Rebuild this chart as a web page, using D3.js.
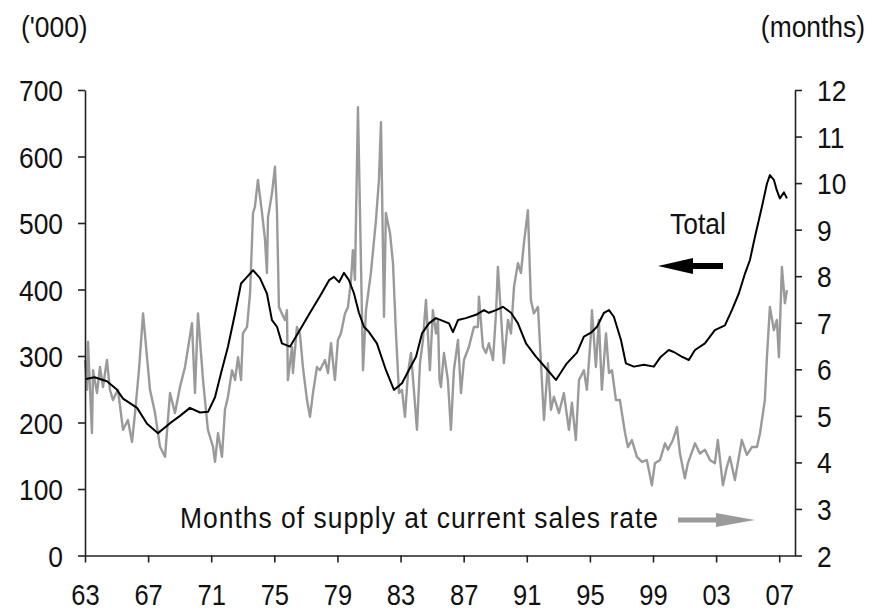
<!DOCTYPE html>
<html>
<head>
<meta charset="utf-8">
<script src="https://cdn.jsdelivr.net/npm/d3@7"></script>
<style>
  body { margin: 0; background: #fff; }
  svg { display: block; }
  text { font-family: "Liberation Sans", Arial, sans-serif; fill: #111; }
</style>
</head>
<body>
<svg id="chart"></svg>
<script>
// New homes for sale: total ('000, left axis) and months of supply (right axis)
const totalYears = [1963.0, 1963.6, 1964.39, 1965.0, 1965.41, 1966.3, 1966.93, 1967.63, 1968.39, 1969.02,
  1969.65, 1970.29, 1970.8, 1971.24, 1971.62, 1972.06, 1972.51, 1972.89, 1973.2, 1973.65,
  1974.09, 1974.53, 1974.85, 1975.17, 1975.48, 1975.99, 1976.62, 1977.26, 1977.89, 1978.47,
  1978.78, 1979.1, 1979.41, 1979.73, 1980.05, 1980.36, 1980.68, 1981.0, 1981.5, 1982.07,
  1982.58, 1983.09, 1983.53, 1983.98, 1984.36, 1984.8, 1985.24, 1986.07, 1986.32, 1986.64,
  1987.14, 1987.78, 1988.29, 1988.6, 1989.05, 1989.49, 1990.0, 1990.44, 1990.95, 1991.58,
  1992.21, 1992.85, 1993.54, 1994.18, 1994.62, 1995.07, 1995.45, 1995.89, 1996.21, 1996.52,
  1996.97, 1997.28, 1997.79, 1998.42, 1999.05, 1999.5, 2000.0, 2000.32, 2000.82, 2001.27,
  2001.66, 2002.29, 2002.92, 2003.56, 2004.0, 2004.44, 2004.83, 2005.14, 2005.46, 2005.9,
  2006.22, 2006.41, 2006.66, 2006.85, 2007.04, 2007.3, 2007.49];
const totalUnits = [265, 268, 262, 250, 236, 222, 198, 184, 199, 210,
  222, 215, 216, 238, 274, 314, 364, 409, 417, 429,
  417, 394, 354, 344, 319, 314, 339, 365, 390, 414,
  419, 411, 425, 414, 394, 365, 344, 336, 319, 279,
  249, 259, 279, 299, 334, 349, 357, 349, 336, 354,
  357, 362, 369, 365, 369, 374, 365, 349, 319, 299,
  282, 264, 289, 305, 329, 335, 344, 365, 369, 359,
  324, 289, 284, 287, 284, 299, 309, 306, 299, 294,
  309, 319, 339, 346, 369, 394, 424, 444, 479, 524,
  559, 572, 565, 549, 537, 546, 537];

const supplyYears = [1963.0, 1963.13, 1963.19, 1963.44, 1963.51, 1963.76, 1963.95, 1964.14, 1964.39, 1964.58,
  1964.77, 1965.09, 1965.41, 1965.72, 1965.98, 1966.17, 1966.42, 1966.68, 1966.93, 1967.12,
  1967.44, 1967.75, 1968.07, 1968.39, 1968.7, 1969.02, 1969.34, 1969.78, 1969.97, 1970.16,
  1970.48, 1970.79, 1971.11, 1971.24, 1971.43, 1971.68, 1971.87, 1972.06, 1972.32, 1972.51,
  1972.7, 1972.89, 1973.01, 1973.27, 1973.46, 1973.65, 1973.77, 1973.96, 1974.22, 1974.41,
  1974.53, 1974.6, 1974.85, 1975.04, 1975.17, 1975.29, 1975.48, 1975.67, 1975.8, 1975.86,
  1976.12, 1976.18, 1976.43, 1976.62, 1976.81, 1977.07, 1977.26, 1977.45, 1977.7, 1977.89,
  1978.21, 1978.4, 1978.59, 1978.84, 1979.03, 1979.22, 1979.48, 1979.67, 1979.86, 1979.98,
  1980.11, 1980.3, 1980.43, 1980.62, 1980.81, 1981.12, 1981.44, 1981.63, 1981.76, 1981.95,
  1982.07, 1982.33, 1982.52, 1982.71, 1982.9, 1983.09, 1983.28, 1983.47, 1983.66, 1983.91,
  1984.04, 1984.23, 1984.42, 1984.61, 1984.86, 1985.05, 1985.24, 1985.37, 1985.47, 1985.56,
  1985.75, 1986.0, 1986.19, 1986.38, 1986.64, 1986.83, 1987.02, 1987.33, 1987.65, 1987.9,
  1987.97, 1988.22, 1988.41, 1988.6, 1988.86, 1989.05, 1989.17, 1989.36, 1989.55, 1989.81,
  1990.0, 1990.19, 1990.44, 1990.63, 1990.82, 1991.07, 1991.26, 1991.45, 1991.71, 1991.9,
  1992.09, 1992.34, 1992.53, 1992.72, 1993.04, 1993.35, 1993.67, 1993.86, 1994.11, 1994.31,
  1994.62, 1994.81, 1995.07, 1995.13, 1995.38, 1995.57, 1995.76, 1996.02, 1996.21, 1996.4,
  1996.65, 1996.9, 1997.22, 1997.41, 1997.66, 1997.98, 1998.3, 1998.61, 1998.93, 1999.12,
  1999.44, 1999.76, 1999.95, 2000.26, 2000.52, 2000.71, 2001.02, 2001.21, 2001.66, 2001.97,
  2002.29, 2002.61, 2002.92, 2003.11, 2003.43, 2003.68, 2003.87, 2004.19, 2004.63, 2004.95,
  2005.27, 2005.59, 2005.78, 2006.09, 2006.22, 2006.41, 2006.66, 2006.85, 2006.98, 2007.17,
  2007.36, 2007.49];
const supplyMonths = [6.2, 5.56, 6.59, 4.63, 5.98, 5.49, 6.05, 5.62, 6.2, 5.56,
  5.34, 5.56, 4.7, 4.91, 4.44, 5.06, 5.98, 7.2, 6.26, 5.56,
  5.06, 4.34, 4.12, 5.49, 5.06, 5.62, 6.05, 6.99, 5.49, 7.2,
  5.77, 4.7, 4.34, 4.01, 4.63, 4.12, 5.13, 5.41, 5.98, 5.77,
  6.26, 5.77, 6.77, 6.91, 7.63, 9.36, 9.49, 10.07, 9.36, 8.78,
  8.07, 9.27, 9.78, 10.35, 9.36, 7.34, 7.2, 7.06, 7.27, 5.77,
  6.48, 5.92, 6.91, 6.77, 6.05, 5.34, 4.98, 5.49, 6.05, 5.98,
  6.2, 5.92, 6.56, 5.77, 6.63, 6.77, 7.2, 7.34, 7.92, 8.56,
  7.92, 11.63, 9.36, 5.98, 7.27, 8.07, 9.2, 10.07, 11.31, 7.13,
  9.36, 8.93, 8.28, 6.77, 5.49, 5.56, 4.98, 5.92, 6.35, 5.28,
  4.7, 6.13, 6.63, 7.49, 5.98, 7.27, 6.77, 7.06, 5.77, 5.62,
  6.35, 5.77, 4.7, 5.98, 6.63, 5.49, 6.2, 6.48, 6.91, 6.91,
  7.56, 6.48, 6.35, 6.56, 6.2, 7.2, 8.2, 7.2, 6.13, 7.06,
  6.77, 7.77, 8.28, 8.07, 8.71, 9.42, 7.49, 7.2, 7.34, 6.13,
  4.91, 6.13, 5.13, 5.41, 5.06, 5.49, 4.7, 5.28, 4.48, 5.77,
  5.98, 5.56, 6.77, 7.27, 6.05, 7.06, 5.56, 6.77, 5.92, 5.98,
  5.34, 5.34, 4.65, 4.33, 4.48, 4.12, 4.01, 4.05, 3.51, 3.98,
  4.05, 4.41, 4.27, 4.48, 4.76, 4.19, 3.66, 3.98, 4.41, 4.19,
  4.27, 4.05, 3.98, 4.48, 3.51, 3.9, 4.12, 3.62, 4.48, 4.16,
  4.33, 4.33, 4.62, 5.34, 6.26, 7.34, 6.84, 7.06, 6.26, 8.2,
  7.42, 7.7];

const yearTicks = d3.range(1963, 2008, 4);
const leftTicks = d3.range(0, 701, 100);
const rightTicks = d3.range(2, 13, 1);

const W = 879, H = 611;
const margin = { top: 90, right: 84, bottom: 55.5, left: 85 };
const textScale = 0.88;

const svg = d3.select('#chart').attr('width', W).attr('height', H);

const x = d3.scaleLinear().domain([1963, 2008]).range([margin.left, W - margin.right]);
const yL = d3.scaleLinear().domain([0, 700]).range([H - margin.bottom, margin.top]);
const yR = d3.scaleLinear().domain([2, 12]).range([H - margin.bottom, margin.top]);

function label(x0, y0, str, anchor) {
  return svg.append('text')
    .attr('transform', `translate(${x0},${y0}) scale(${textScale},1)`)
    .attr('text-anchor', anchor || 'start')
    .style('font-size', '30px')
    .text(str);
}

// lines
const supplyLine = d3.line().x((d, i) => x(supplyYears[i])).y(d => yR(d));
const totalLine = d3.line().x((d, i) => x(totalYears[i])).y(d => yL(d));

svg.append('path')
  .datum(supplyMonths)
  .attr('d', supplyLine)
  .attr('fill', 'none')
  .attr('stroke', '#9a9a9a')
  .attr('stroke-width', 2.4)
  .attr('stroke-linejoin', 'round');

svg.append('path')
  .datum(totalUnits)
  .attr('d', totalLine)
  .attr('fill', 'none')
  .attr('stroke', '#000')
  .attr('stroke-width', 2)
  .attr('stroke-linejoin', 'round');

// axes
function styleAxis(g) {
  g.select('.domain').attr('stroke', '#222').attr('stroke-width', 1.6);
  g.selectAll('.tick line').attr('stroke', '#222').attr('stroke-width', 1.6);
}

const xAxisG = svg.append('g')
  .attr('transform', `translate(0,${H - margin.bottom})`)
  .call(d3.axisBottom(x).tickValues(yearTicks).tickSizeInner(7).tickSizeOuter(0)
    .tickFormat(d => String(d).slice(2)));
styleAxis(xAxisG);
xAxisG.selectAll('.tick text')
  .attr('y', null).attr('dy', null)
  .attr('transform', `translate(0,49) scale(${textScale},1)`)
  .attr('fill', '#111')
  .style('font-size', '29px');

const leftAxisG = svg.append('g')
  .attr('transform', `translate(${margin.left},0)`)
  .call(d3.axisLeft(yL).tickValues(leftTicks).tickSizeInner(7).tickSizeOuter(0));
styleAxis(leftAxisG);
leftAxisG.selectAll('.tick text')
  .attr('x', null).attr('dy', '0.35em')
  .attr('transform', `translate(-22,0) scale(${textScale},1)`)
  .attr('fill', '#111')
  .style('font-size', '30px');

const rightAxisG = svg.append('g')
  .attr('transform', `translate(${W - margin.right},0)`)
  .call(d3.axisRight(yR).tickValues(rightTicks).tickSizeInner(7).tickSizeOuter(0));
styleAxis(rightAxisG);
rightAxisG.selectAll('.tick text')
  .attr('x', null).attr('dy', '0.35em')
  .attr('transform', `translate(22,0) scale(${textScale},1)`)
  .attr('fill', '#111')
  .style('font-size', '30px');

// axis unit labels
label(21, 37, "('000)", 'start');
label(865, 37, '(months)', 'end');

// annotations
label(670, 234, 'Total', 'start');
label(180, 528, 'Months of supply at current sales rate', 'start')
  .attr('textLength', 478 / textScale)
  .attr('lengthAdjust', 'spacing');

// black arrow pointing left
svg.append('path')
  .attr('d', 'M658,266 L693,258 L693,263 L723,263 L723,269 L693,269 L693,274 Z')
  .attr('fill', '#000');

// grey arrow pointing right
svg.append('path')
  .attr('d', 'M755,520 L716,513 L716,517.5 L678,517.5 L678,522.5 L716,522.5 L716,527 Z')
  .attr('fill', '#9a9a9a');
</script>
</body>
</html>
